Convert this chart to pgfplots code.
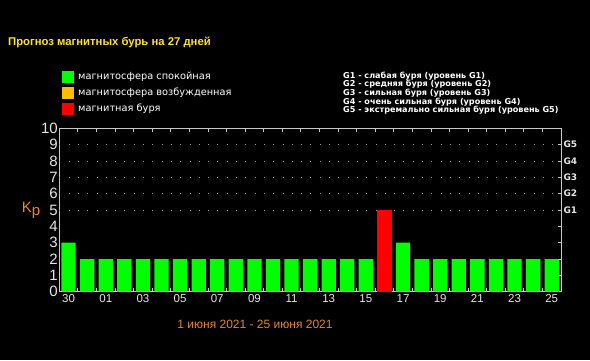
\documentclass[border=0pt]{standalone}
\usepackage{pgfplots}
\pgfplotsset{compat=1.18}
\usepackage{fontspec}
\setmainfont{DejaVu Sans}
\newfontfamily\lib{Liberation Sans}
\definecolor{bargreen}{HTML}{00FF00}
\definecolor{barred}{HTML}{FF0000}
\definecolor{amber}{HTML}{FFBF00}
\definecolor{titley}{HTML}{FFE033}
\definecolor{orangetxt}{HTML}{E8842C}
\definecolor{axisgray}{HTML}{C8C8C8}
\definecolor{labelw}{HTML}{E6E6E6}
\begin{document}
\begin{tikzpicture}[x=1pt,y=1pt]
\fill[black] (0,0) rectangle (590,360);
\useasboundingbox (0,0) rectangle (590,360);
% title
\node[anchor=base west, inner sep=0, text=titley, font=\lib\bfseries\fontsize{11.3}{13}\selectfont] at (8,315) {Прогноз магнитных бурь на 27 дней};
% legend
\fill[bargreen] (62,277) rectangle (74,289);
\fill[amber] (62,261) rectangle (74,273);
\fill[barred] (62,245) rectangle (74,257);
\node[anchor=west, inner sep=0, text=white, font=\fontsize{9.8}{11}\selectfont] at (78,283) {магнитосфера спокойная};
\node[anchor=west, inner sep=0, text=white, font=\fontsize{9.8}{11}\selectfont] at (78,267) {магнитосфера возбужденная};
\node[anchor=west, inner sep=0, text=white, font=\fontsize{9.8}{11}\selectfont] at (78,251) {магнитная буря};
% G descriptions
\node[anchor=west, inner sep=0, text=white, font=\bfseries\fontsize{8.1}{8}\selectfont] at (343,284) {G1 - слабая буря (уровень G1)};
\node[anchor=west, inner sep=0, text=white, font=\bfseries\fontsize{8.1}{8}\selectfont] at (343,275.4) {G2 - средняя буря (уровень G2)};
\node[anchor=west, inner sep=0, text=white, font=\bfseries\fontsize{8.1}{8}\selectfont] at (343,266.8) {G3 - сильная буря (уровень G3)};
\node[anchor=west, inner sep=0, text=white, font=\bfseries\fontsize{8.1}{8}\selectfont] at (343,258.2) {G4 - очень сильная буря (уровень G4)};
\node[anchor=west, inner sep=0, text=white, font=\bfseries\fontsize{8.1}{8}\selectfont] at (343,249.6) {G5 - экстремально сильная буря (уровень G5)};
% Kp label
\node[anchor=center, inner sep=0, text=orangetxt, font=\lib\fontsize{15}{15}\selectfont] at (31,150) {K\raisebox{-3pt}{p}};
% bottom label
\node[anchor=center, inner sep=0, text=orangetxt, font=\lib\fontsize{12}{14}\selectfont] at (255,36) {1 июня 2021 - 25 июня 2021};

\begin{axis}[
  at={(59.3pt,68.3pt)}, anchor=south west,
  scale only axis, width=501.7pt, height=163.4pt,
  xmin=-0.5, xmax=26.5, ymin=0, ymax=10,
  axis line style={draw=axisgray, line width=1pt},
  ybar, bar width=0.77, bar shift=0pt,
  xtick={0,2,...,26},
  xticklabels={30,01,03,05,07,09,11,13,15,17,19,21,23,25},
  minor xtick={0.5,1.5,...,25.5},
  minor tick length=4pt,
  tick align=inside,
  major x tick style={draw=none},
  ytick={0,...,10},
  ytick pos=left,
  major y tick style={draw=none},
  extra y ticks={5,6,7,8,9},
  extra y tick labels={},
  extra y tick style={grid=major, major tick length=0pt},
  major grid style={draw=gray!80, line width=0.8pt, dash pattern=on 0.8pt off 8.5pt},
  minor tick style={draw=axisgray, line width=0.8pt},
  x tick label style={text=labelw, font=\lib\fontsize{11.5}{12}\selectfont, yshift=1pt},
  y tick label style={text=labelw, font=\lib\fontsize{15}{15}\selectfont, xshift=2pt},
  /pgf/number format/assume math mode=true,
]
\addplot[fill=bargreen, draw=none] coordinates {
(0,3) (1,2) (2,2) (3,2) (4,2) (5,2) (6,2) (7,2) (8,2) (9,2) (10,2) (11,2) (12,2) (13,2) (14,2) (15,2) (16,2)
(18,3) (19,2) (20,2) (21,2) (22,2) (23,2) (24,2) (25,2) (26,2)};
\addplot[fill=barred, draw=none] coordinates {(17,5)};
\end{axis}

\begin{axis}[
  at={(59.3pt,68.3pt)}, anchor=south west,
  scale only axis, width=501.7pt, height=163.4pt,
  xmin=-0.5, xmax=26.5, ymin=0, ymax=10,
  axis line style={draw=none},
  xtick=\empty,
  ytick={1,...,9},
  yticklabels={,,,,G1,G2,G3,G4,G5},
  ytick pos=right,
  yticklabel pos=right,
  tick align=inside,
  major tick length=3pt,
  major tick style={draw=axisgray, line width=0.8pt},
  y tick label style={text=labelw, font=\bfseries\fontsize{9}{9}\selectfont, xshift=-1pt},
]
\end{axis}
\end{tikzpicture}
\end{document}
